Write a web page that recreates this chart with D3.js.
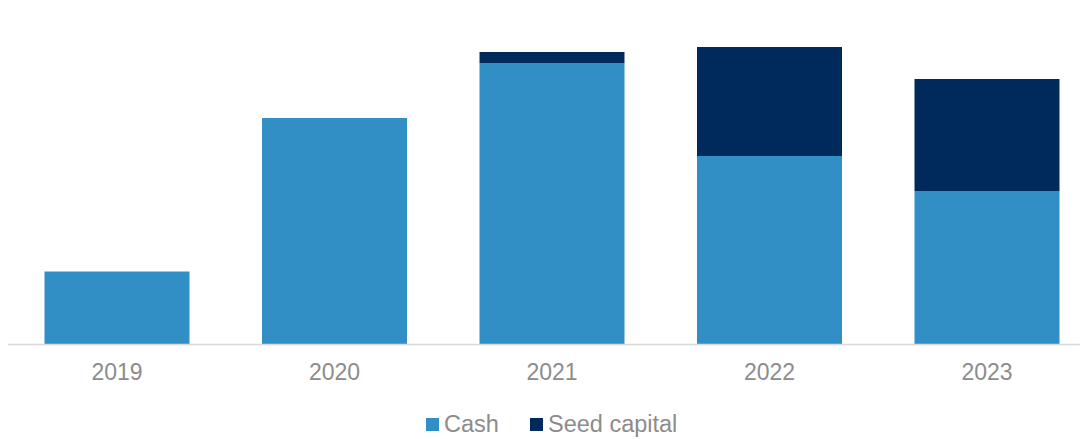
<!DOCTYPE html>
<html>
<head>
<meta charset="utf-8">
<script src="https://cdn.jsdelivr.net/npm/d3@7"></script>
<style>
  html, body { margin: 0; padding: 0; background: #fff; }
  svg { display: block; }
</style>
</head>
<body>
<svg id="chart" width="1080" height="439"></svg>
<script>
// Yearly composition: cash vs. seed capital
const years = ["2019", "2020", "2021", "2022", "2023"];
const cash = [72.5, 226, 281, 188, 153];
const seedCapital = [0, 0, 11, 109, 112];
const seriesNames = ["Cash", "Seed capital"];
const seriesColors = ["#318fc5", "#002a5c"];

const rows = years.map((y, i) => ({ year: y, "Cash": cash[i], "Seed capital": seedCapital[i] }));

const W = 1080, H = 439;
const baseY = 344;
const svg = d3.select("#chart");

const x = d3.scaleBand()
  .domain(years)
  .range([8.25, 1095.75])
  .paddingInner(1 / 3)
  .paddingOuter(1 / 6);

const y = d3.scaleLinear()
  .domain([0, 300])
  .range([baseY, baseY - 300]);

const stack = d3.stack().keys(seriesNames);
const layers = stack(rows);

svg.append("g")
  .selectAll("g")
  .data(layers)
  .join("g")
  .attr("fill", (d, i) => seriesColors[i])
  .selectAll("rect")
  .data(d => d.filter(p => p[1] - p[0] > 0))
  .join("rect")
  .attr("x", d => x(d.data.year))
  .attr("width", x.bandwidth())
  .attr("y", d => y(d[1]))
  .attr("height", d => y(d[0]) - y(d[1]));

// Category axis along the baseline
const axis = svg.append("g")
  .attr("transform", `translate(0,${baseY})`)
  .call(d3.axisBottom(x).tickSize(0).tickPadding(20));
axis.select(".domain")
  .attr("d", `M8,0.5H1080`)
  .attr("stroke", "#d9d9d9")
  .attr("stroke-width", 1.5);
axis.selectAll("text")
  .attr("font-family", "Liberation Sans, Arial, sans-serif")
  .attr("font-size", "23px")
  .attr("fill", "#8c8c8c");

// Legend
const legend = svg.append("g");
const legendItems = [
  { name: seriesNames[0], color: seriesColors[0], x: 426 },
  { name: seriesNames[1], color: seriesColors[1], x: 530 }
];
legendItems.forEach(it => {
  legend.append("rect")
    .attr("x", it.x).attr("y", 418)
    .attr("width", 13).attr("height", 13)
    .attr("fill", it.color);
  legend.append("text")
    .attr("x", it.x + 18).attr("y", 431.5)
    .attr("font-family", "Liberation Sans, Arial, sans-serif")
    .attr("font-size", "23.5px")
    .attr("fill", "#8c8c8c")
    .text(it.name);
});
</script>
</body>
</html>
